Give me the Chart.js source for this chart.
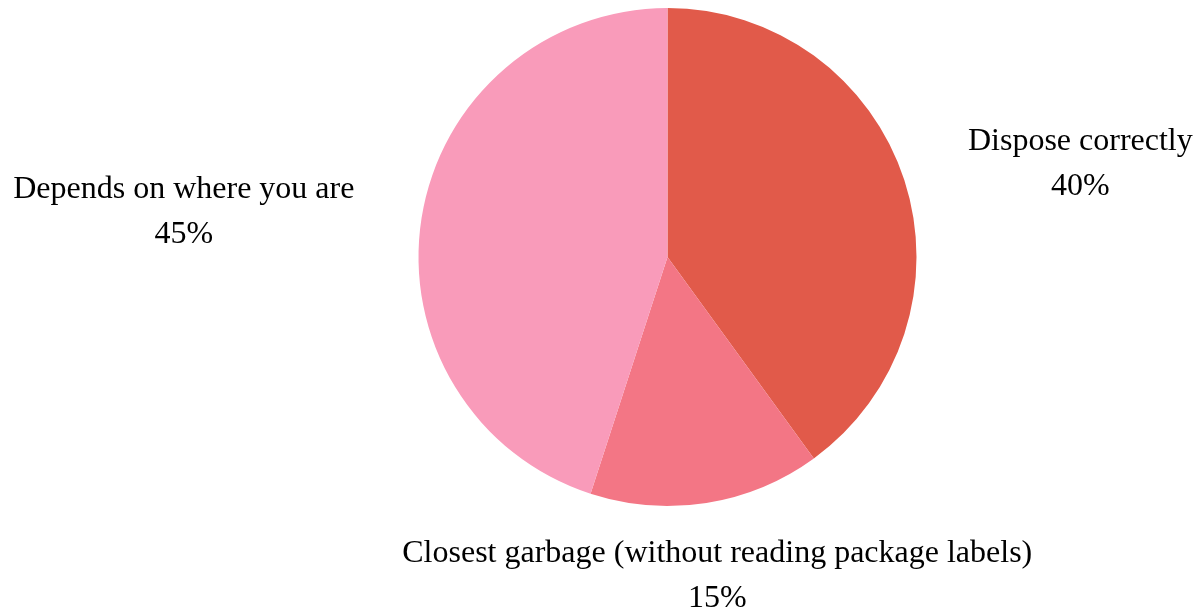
<!DOCTYPE html>
<html>
<head>
<meta charset="utf-8">
<title>Disposal habits</title>
<script src="https://cdn.jsdelivr.net/npm/chart.js@4/dist/chart.umd.min.js"></script>
<style>
  html, body { margin: 0; padding: 0; background: #fff; }
  #wrap { width: 1201px; height: 611px; position: relative; }
</style>
</head>
<body>
<div id="wrap"><canvas id="chart" width="1201" height="611"></canvas></div>
<script>
// ── Data ─────────────────────────────────────────────
const categories = [
  'Dispose correctly',
  'Closest garbage (without reading package labels)',
  'Depends on where you are'
];
const shares = [40, 15, 45];
const sliceColors = ['#E15A4A', '#F37685', '#F99BBA'];

// ── Outside labels: name + percent, placed along each slice's mid-angle ──
const outsideLabels = {
  id: 'outsideLabels',
  afterDatasetsDraw(chart) {
    const ctx = chart.ctx;
    const meta = chart.getDatasetMeta(0);
    const total = shares.reduce((a, b) => a + b, 0);
    const fontSize = 32;
    const lineGap = 45;
    const nudgeY = 5;   // 'middle' sits a bit high for this face

    ctx.save();
    ctx.font = fontSize + "px 'Liberation Serif', 'Times New Roman', serif";
    ctx.fillStyle = '#000';
    ctx.textBaseline = 'middle';

    meta.data.forEach((arc, i) => {
      const mid = (arc.startAngle + arc.endAngle) / 2;
      const dist = arc.outerRadius + 69;
      const cos = Math.cos(mid), sin = Math.sin(mid);
      const ax = arc.x + cos * dist;
      const ay = arc.y + sin * dist + nudgeY;

      const pct = Math.round(shares[i] / total * 100) + '%';
      const lines = [categories[i], pct];
      const w = ctx.measureText(lines[0]).width;

      // block centre: pushed out sideways for labels left/right of the pie
      let cx = ax;
      if (cos > 0.5) cx = ax + w / 2 - 2;
      else if (cos < -0.5) cx = ax - w / 2 + 1;

      const top = ay - (lines.length - 1) * lineGap / 2;
      ctx.textAlign = 'center';
      lines.forEach((txt, k) => ctx.fillText(txt, cx, top + k * lineGap));
    });
    ctx.restore();
  }
};

// ── Chart ────────────────────────────────────────────
new Chart(document.getElementById('chart'), {
  type: 'pie',
  data: {
    labels: categories,
    datasets: [{
      data: shares,
      backgroundColor: sliceColors,
      borderWidth: 0,
      hoverOffset: 0
    }]
  },
  options: {
    responsive: false,
    animation: false,
    layout: { padding: { top: 8, bottom: 105, left: 134, right: 0 } },
    plugins: {
      legend: { display: false },
      tooltip: { enabled: false }
    }
  },
  plugins: [outsideLabels]
});
</script>
</body>
</html>
